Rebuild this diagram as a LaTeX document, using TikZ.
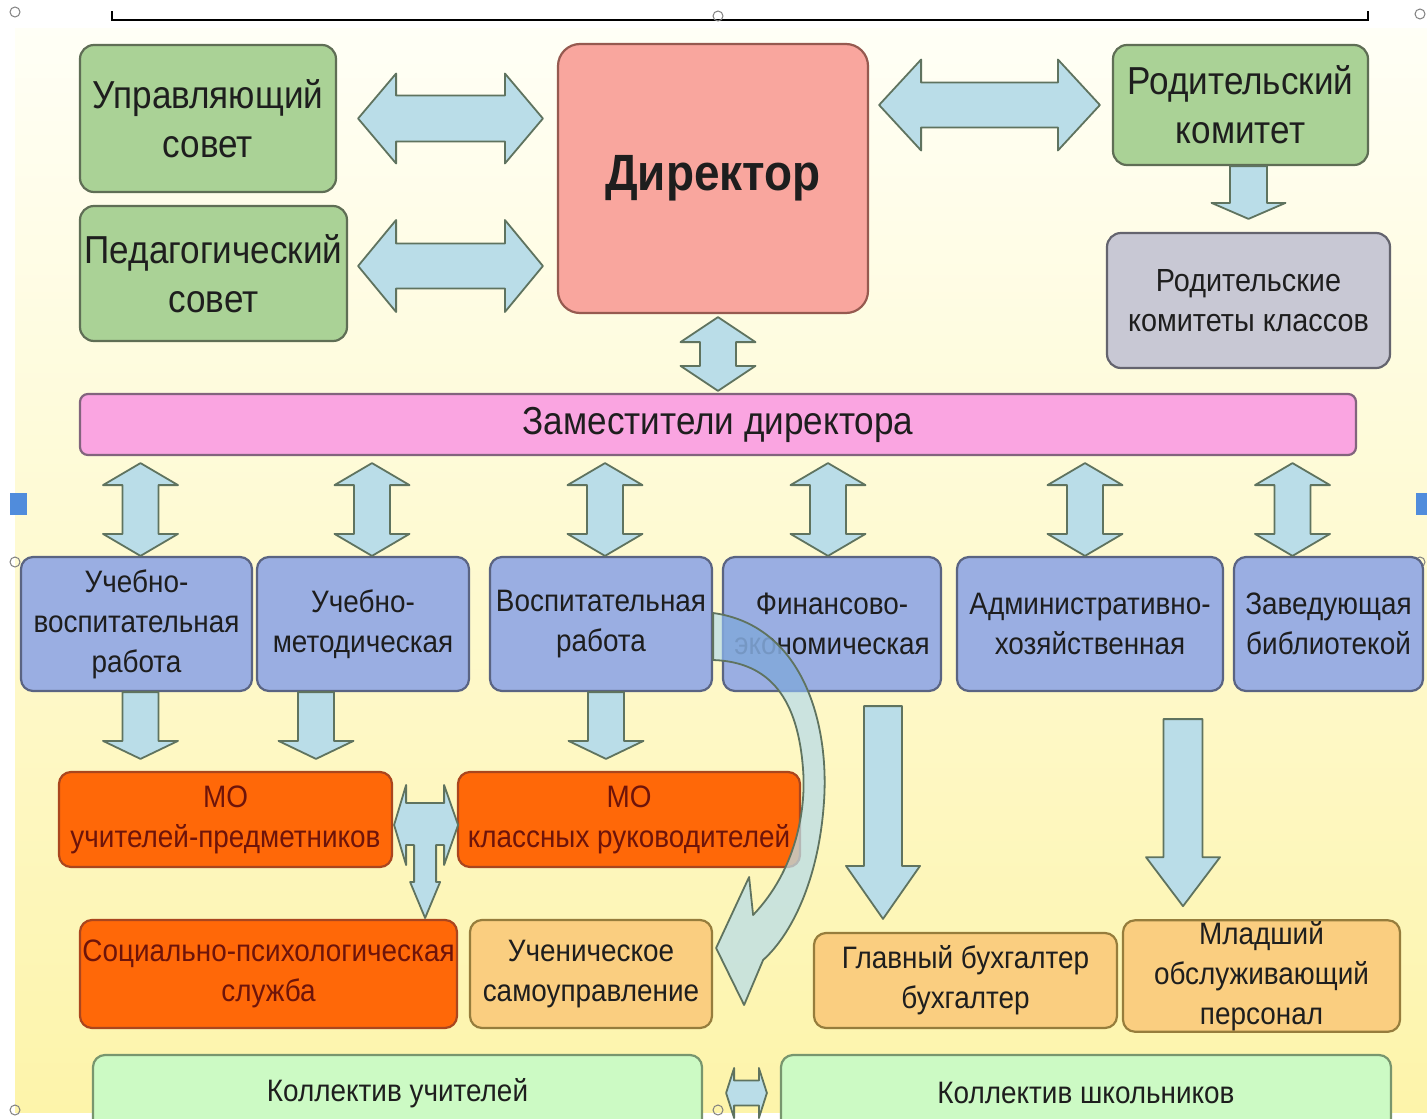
\documentclass[tikz,border=0pt]{standalone}
\usepackage{fontspec}
\setmainfont[FakeStretch=0.9]{Liberation Sans}
\usepackage{tikz}
\usetikzlibrary{calc}
\definecolor{councilgreen}{RGB}{170,210,150}
\definecolor{councilline}{RGB}{95,110,85}
\definecolor{dirpink}{RGB}{249,166,158}
\definecolor{dirline}{RGB}{150,90,80}
\definecolor{parentgray}{RGB}{200,200,212}
\definecolor{parentline}{RGB}{100,100,110}
\definecolor{deputypink}{RGB}{250,165,225}
\definecolor{deputyline}{RGB}{130,100,125}
\definecolor{branchblue}{RGB}{154,174,226}
\definecolor{branchline}{RGB}{90,100,130}
\definecolor{unitorange}{RGB}{255,104,8}
\definecolor{unitline}{RGB}{170,70,30}
\definecolor{unittext}{RGB}{110,20,10}
\definecolor{staffor}{RGB}{250,206,128}
\definecolor{staffline}{RGB}{150,125,60}
\definecolor{teamgreen}{RGB}{204,250,196}
\definecolor{teamline}{RGB}{120,150,110}
\definecolor{arrowblue}{RGB}{186,221,232}
\definecolor{curveblue}{RGB}{90,130,210}
\definecolor{arrowline}{RGB}{95,115,95}
\definecolor{bgtop}{RGB}{255,255,246}
\definecolor{bgmid}{RGB}{254,249,210}
\definecolor{bgbot}{RGB}{253,244,170}
\definecolor{textdark}{RGB}{30,30,30}
\definecolor{handleblue}{RGB}{80,140,220}
\newcommand{\txtXL}{\fontsize{51}{58}\selectfont\bfseries}
\newcommand{\txtL}{\fontsize{39}{49}\selectfont}
\newcommand{\txtM}{\fontsize{31}{40}\selectfont}
\tikzstyle{card} = [rectangle, rounded corners=14pt, text centered, align=center, line width=2.2pt, inner sep=1pt, text=textdark]
\tikzstyle{council} = [card, draw=councilline, fill=councilgreen, font=\txtL]
\tikzstyle{director} = [card, rounded corners=22pt, draw=dirline, fill=dirpink, font=\txtXL]
\tikzstyle{parents} = [card, draw=parentline, fill=parentgray, font=\fontsize{32}{40}\selectfont]
\tikzstyle{deputy} = [card, rounded corners=8pt, draw=deputyline, fill=deputypink, font=\txtL]
\tikzstyle{branch} = [card, rounded corners=12pt, draw=branchline, fill=branchblue, font=\txtM]
\tikzstyle{unit} = [card, rounded corners=12pt, draw=unitline, fill=unitorange, font=\txtM, text=unittext]
\tikzstyle{staff} = [card, rounded corners=12pt, draw=staffline, fill=staffor, font=\txtM]
\tikzstyle{team} = [card, rounded corners=12pt, draw=teamline, fill=teamgreen, font=\txtM]
\tikzstyle{arrow} = [draw=arrowline, line width=1.8pt, fill=arrowblue, line join=round]
\tikzset{
	head len/.store in=\arhl, head half/.store in=\arhw, shaft half/.store in=\arsw,
	head len=22pt, head half=37.5pt, shaft half=18pt,
	both x/.style={arrow, to path={let \p1=(\tikztostart), \p2=(\tikztotarget) in
		(\x1,\y1) -- ({\x1+\arhl},{\y1+\arhw}) -- ({\x1+\arhl},{\y1+\arsw}) -- ({\x2-\arhl},{\y1+\arsw})
		-- ({\x2-\arhl},{\y1+\arhw}) -- (\x2,\y1) -- ({\x2-\arhl},{\y1-\arhw}) -- ({\x2-\arhl},{\y1-\arsw})
		-- ({\x1+\arhl},{\y1-\arsw}) -- ({\x1+\arhl},{\y1-\arhw}) -- cycle}},
	both y/.style={arrow, to path={let \p1=(\tikztostart), \p2=(\tikztotarget) in
		(\x1,\y1) -- ({\x1+\arhw},{\y1-\arhl}) -- ({\x1+\arsw},{\y1-\arhl}) -- ({\x1+\arsw},{\y2+\arhl})
		-- ({\x1+\arhw},{\y2+\arhl}) -- (\x1,\y2) -- ({\x1-\arhw},{\y2+\arhl}) -- ({\x1-\arsw},{\y2+\arhl})
		-- ({\x1-\arsw},{\y1-\arhl}) -- ({\x1-\arhw},{\y1-\arhl}) -- cycle}},
	down/.style={arrow, to path={let \p1=(\tikztostart), \p2=(\tikztotarget) in
		({\x1-\arsw},\y1) -- ({\x1+\arsw},\y1) -- ({\x1+\arsw},{\y2+\arhl}) -- ({\x1+\arhw},{\y2+\arhl})
		-- (\x1,\y2) -- ({\x1-\arhw},{\y2+\arhl}) -- ({\x1-\arsw},{\y2+\arhl}) -- cycle}}
}

\begin{document}
\begin{tikzpicture}
	[x=1pt, y=-1pt]

	\useasboundingbox (0,0) rectangle (1427,1119);
	\clip (0,0) rectangle (1427,1119);
	\fill [white] (0,0) rectangle (1427,1119);
	\shade [top color=bgtop, middle color=bgmid, bottom color=bgbot] (15,28) rectangle (1427,1112);
	\draw [line width=2pt] (112,11) -- (112,20) -- (1368,20) -- (1368,11);
	\fill [handleblue] (10,493) rectangle (27,515);
	\fill [handleblue] (1416,493) rectangle (1427,515);
	\draw [gray, line width=1pt] (15,12) circle (5) (718,16) circle (5) (1420,14) circle (5) (15,562) circle (5) (1420,562) circle (5) (15,1110) circle (5) (718,1110) circle (5);

	\node (upr) [council, minimum width=256pt, minimum height=147pt] at (208,118.5) {Управляющий\\совет};
	\node (ped) [council, minimum width=267pt, minimum height=135pt] at (213.5,273.5) {Педагогический\\совет};
	\node (dir) [director, minimum width=310pt, minimum height=269pt] at (713,178.5) {Директор};
	\node (rodk) [council, minimum width=255pt, minimum height=120pt] at (1240.5,105) {Родительский\\комитет};
	\node (rodkl) [parents, minimum width=283pt, minimum height=135pt] at (1248.5,300.5) {Родительские\\комитеты классов};
	\node (zam) [deputy, minimum width=1276pt, minimum height=61pt] at (718,424.5) {Заместители директора};

	\node (uvr) [branch, minimum width=231pt, minimum height=134pt] at (136.5,624) {Учебно-\\воспитательная\\работа};
	\node (umr) [branch, minimum width=212pt, minimum height=134pt] at (363,624) {Учебно-\\методическая};
	\node (vr) [branch, minimum width=222pt, minimum height=134pt] at (601,624) {Воспитательная\\работа};
	\node (fin) [branch, minimum width=218pt, minimum height=134pt] at (832,624) {Финансово-\\экономическая};
	\node (adm) [branch, minimum width=266pt, minimum height=134pt] at (1090,624) {Административно-\\хозяйственная};
	\node (lib) [branch, minimum width=189pt, minimum height=134pt] at (1328.5,624) {Заведующая\\библиотекой};

	\node (mo1) [unit, minimum width=333pt, minimum height=95pt] at (225.5,819.5) {МО\\учителей-предметников};
	\node (mo2) [unit, minimum width=342pt, minimum height=95pt] at (629,819.5) {МО\\классных руководителей};
	\node (soc) [unit, minimum width=377pt, minimum height=108pt] at (268.5,974) {Социально-психологическая\\служба};
	\node (uch) [staff, minimum width=242pt, minimum height=108pt] at (591,974) {Ученическое\\самоуправление};
	\node (glav) [staff, minimum width=303pt, minimum height=95pt] at (965.5,980.5) {Главный бухгалтер\\бухгалтер};
	\node (mlad) [staff, minimum width=277pt, minimum height=108pt] at (1261.5,976) {Младший\\обслуживающий\\персонал};
	\node (kolu) [team, minimum width=609pt, minimum height=76pt] at (397.5,1093) {Коллектив учителей};
	\node (kolsh) [team, minimum width=610pt, minimum height=76pt] at (1086,1093) {Коллектив школьников};

	\draw [both x, head len=38pt, head half=45pt, shaft half=23pt] ($(upr.east)+(21,0)$) to ($(dir.west |- upr.east)+(-14,0)$);
	\draw [both x, head len=38pt, head half=46pt, shaft half=22.5pt] ($(ped.east)+(10,-7.5)$) to ($(dir.west |- ped.east)+(-14,-7.5)$);
	\draw [both x, head len=42pt, head half=45.5pt, shaft half=22.5pt] ($(dir.east |- rodk.west)+(10,0)$) to ($(rodk.west)+(-12,0)$);
	\draw [down, head len=16pt, head half=37pt, shaft half=18.5pt] ($(rodk.south)+(8,0)$) to ($(rodkl.north)+(0,-13)$);
	\draw [both y, head len=25pt] ($(dir.south -| zam.north)+(0,3)$) to ($(zam.north)+(0,-2)$);

	\draw [both y] ($(uvr.north |- zam.south)+(4,7)$) to ($(uvr.north)+(4,0)$);
	\draw [both y] ($(umr.north |- zam.south)+(9,7)$) to ($(umr.north)+(9,0)$);
	\draw [both y] ($(vr.north |- zam.south)+(4,7)$) to ($(vr.north)+(4,0)$);
	\draw [both y] ($(fin.north |- zam.south)+(-4,7)$) to ($(fin.north)+(-4,0)$);
	\draw [both y] ($(adm.north |- zam.south)+(-5,7)$) to ($(adm.north)+(-5,0)$);
	\draw [both y] ($(lib.north |- zam.south)+(-36,7)$) to ($(lib.north)+(-36,0)$);

	\draw [down, head len=18pt] ($(uvr.south)+(4,0)$) to ($(uvr.south |- mo1.north)+(4,-12)$);
	\draw [down, head len=18pt] ($(umr.south)+(-47,0)$) to ($(umr.south |- mo1.north)+(-47,-12)$);
	\draw [down, head len=18pt] ($(vr.south)+(5,0)$) to ($(vr.south |- mo2.north)+(5,-12)$);
	\draw [down, head len=53pt, head half=37pt, shaft half=19pt] ($(fin.south)+(51,14)$) to ($(fin.south |- glav.north)+(51,-13)$);
	\draw [down, head len=49pt, head half=37pt, shaft half=19.5pt] ($(adm.south)+(93,27)$) to ($(adm.south |- mlad.north)+(93,-13)$);

	% both MO and the social service
	\draw [arrow] ($(mo1.east)+(1,5.5)$) -- ++(12,-40) -- ++(0,18) -- ++(38,0) -- ++(0,-18) -- ++(14,40)
		-- ++(-14,40) -- ++(0,-20) -- ++(-8,0) -- ++(0,37) -- ++(4,0) -- ++(-15,36) -- ++(-15,-36)
		-- ++(4,0) -- ++(0,-37) -- ++(-8,0) -- ++(0,20) -- cycle;
	% upbringing work to pupil self-government
	\path [save path=\bendway] ($(vr.east)+(0,-11)$)
		.. controls +(88,12) and +(5,-80) .. ++(111,187)
		.. controls +(-5,80) and +(28,-25) .. ++(-61,160)
		-- ++(-19,45) -- ++(-28,-57) -- ++(33,-71) -- ++(4,38)
		.. controls +(43,-45) and +(3,40) .. ++(50,-145)
		.. controls +(-5,-70) and +(58,2) .. ++(-90,-110) -- cycle;
	\fill [arrowblue, fill opacity=0.75, use path=\bendway];
	\begin{scope}
		\clip [rounded corners=12pt] (fin.south west) rectangle (fin.north east);
		\fill [curveblue, fill opacity=0.5, use path=\bendway];
	\end{scope}
	\draw [arrowline, line width=1.8pt, line join=round, use path=\bendway];
	\draw [both x, head len=8pt, head half=25pt, shaft half=12.5pt] ($(kolu.east)+(23,0)$) to ($(kolsh.west)+(-13,0)$);
\end{tikzpicture}
\end{document}
